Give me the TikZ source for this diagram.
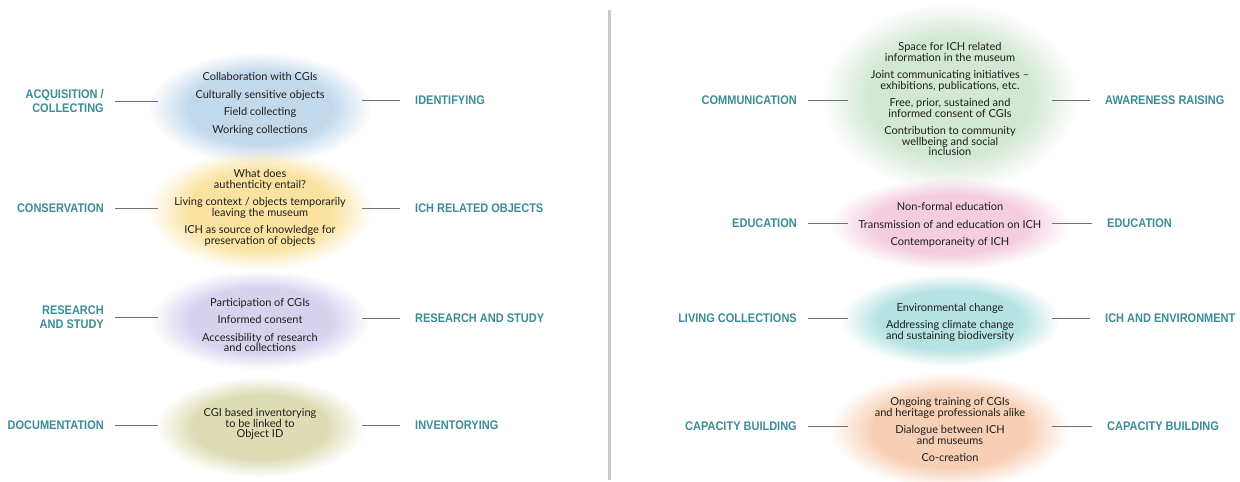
\documentclass[tikz,border=0pt]{standalone}
\usepackage{fontspec}
\setmainfont{Lato}
\newfontfamily\labfont[FakeStretch=0.88]{Liberation Sans}
\usetikzlibrary{fadings}

\definecolor{labcol}{HTML}{3A8D96}
\definecolor{bodycol}{HTML}{1E1E1E}
\definecolor{conncol}{HTML}{707070}
\definecolor{divcol}{HTML}{C9C9C9}
\definecolor{blueb}{HTML}{C2D9EC}
\definecolor{yellb}{HTML}{FAE3A0}
\definecolor{purpb}{HTML}{D8D2EF}
\definecolor{oliveb}{HTML}{DEDCB4}
\definecolor{greenb}{HTML}{D3E8D3}
\definecolor{pinkb}{HTML}{F4CDE0}
\definecolor{tealb}{HTML}{B5E2E2}
\definecolor{orangeb}{HTML}{F7CFB4}

\pgfdeclareradialshading{blobmask}{\pgfpointorigin}{color(0bp)=(white); color(16bp)=(white); color(25bp)=(black); color(50bp)=(black)}
\pgfdeclarefading{blobfade}{\pgfuseshading{blobmask}}

\tikzset{
  lab/.style={font=\labfont\bfseries\fontsize{12.5}{13.5}\selectfont, text=labcol, inner sep=0pt},
  labl/.style={lab, anchor=east, align=right},
  labr/.style={lab, anchor=west, align=left},
  body/.style={font=\fontsize{11}{10.5}\selectfont, text=bodycol, align=center, inner sep=0pt},
  conn/.style={draw=conncol, line width=0.7pt},
  hub/.style={inner sep=0pt, minimum width=200pt, minimum height=4pt},
  blob/.style={fill=#1, path fading=blobfade},
}

\begin{document}
\begin{tikzpicture}[x=1pt,y=-1pt]
\useasboundingbox (0,0) rectangle (1240,482);

% hubs (blob centres)
\node[hub] (b1) at (260,108) {};
\node[hub] (b2) at (260,210) {};
\node[hub] (b3) at (260,320) {};
\node[hub] (b4) at (260,427) {};
\node[hub] (b5) at (950,97) {};
\node[hub] (b6) at (950,224) {};
\node[hub] (b7) at (950,320) {};
\node[hub] (b8) at (950,430) {};

% blobs
\fill[blob=blueb]   (b1) ellipse (112 and 56);
\fill[blob=yellb]   (b2) ellipse (112 and 60);
\fill[blob=purpb]   (b3) ellipse (110 and 50);
\fill[blob=oliveb]  (b4) ellipse (104 and 50);
\fill[blob=greenb]  (b5) ellipse (128 and 94);
\fill[blob=pinkb]   (b6) ellipse (120 and 46);
\fill[blob=tealb]   (b7) ellipse (110 and 46);
\fill[blob=orangeb] (b8) ellipse (120 and 58);

% divider
\draw[line width=3pt, draw=divcol] (609,10) -- (609,480);

% blob texts
\node[body] (t1) at (260,104) {Collaboration with CGIs\\[7pt]Culturally sensitive objects\\[7pt]Field collecting\\[7pt]Working collections};
\node[body] (t2) at (260,208) {What does\\authenticity entail?\\[7pt]Living context / objects temporarily\\leaving the museum\\[7pt]ICH as source of knowledge for\\preservation of objects};
\node[body] (t3) at (260,325) {Participation of CGIs\\[7pt]Informed consent\\[7pt]Accessibility of research\\and collections};
\node[body] (t4) at (260,424) {CGI based inventorying\\to be linked to\\Object ID};
\node[body] (t5) at (950,99) {Space for ICH related\\information in the museum\\[7pt]Joint communicating initiatives –\\exhibitions, publications, etc.\\[7pt]Free, prior, sustained and\\informed consent of CGIs\\[7pt]Contribution to community\\wellbeing and social\\inclusion};
\node[body] (t6) at (950,225) {Non-formal education\\[7pt]Transmission of and education on ICH\\[7pt]Contemporaneity of ICH};
\node[body] (t7) at (950,322) {Environmental change\\[7pt]Addressing climate change\\and sustaining biodiversity};
\node[body] (t8) at (950,430) {Ongoing training of CGIs\\and heritage professionals alike\\[7pt]Dialogue between ICH\\and museums\\[7pt]Co-creation};

% labels left panel
\node[labl] (l1) at (104,101) {ACQUISITION /\\COLLECTING};
\node[labr] (r1) at (415,100) {IDENTIFYING};
\node[labl] (l2) at (104,208) {CONSERVATION};
\node[labr] (r2) at (415,208) {ICH RELATED OBJECTS};
\node[labl] (l3) at (104,317) {RESEARCH\\AND STUDY};
\node[labr] (r3) at (415,318) {RESEARCH AND STUDY};
\node[labl] (l4) at (104,425) {DOCUMENTATION};
\node[labr] (r4) at (415,425) {INVENTORYING};

% labels right panel
\node[labl] (l5) at (797,100) {COMMUNICATION};
\node[labr] (r5) at (1105,100) {AWARENESS RAISING};
\node[labl] (l6) at (797,223) {EDUCATION};
\node[labr] (r6) at (1107,223) {EDUCATION};
\node[labl] (l7) at (797,318) {LIVING COLLECTIONS};
\node[labr] (r7) at (1105,318) {ICH AND ENVIRONMENT};
\node[labl] (l8) at (797,426) {CAPACITY BUILDING};
\node[labr] (r8) at (1107,426) {CAPACITY BUILDING};

% connectors
\foreach \i in {1,...,8}{
  \draw[conn, shorten <=11pt, shorten >=2pt] (l\i.east) -- (l\i.east -| b\i.west);
  \draw[conn, shorten <=2pt, shorten >=15pt] (b\i.east |- r\i.west) -- (r\i.west);
}
\end{tikzpicture}
\end{document}
